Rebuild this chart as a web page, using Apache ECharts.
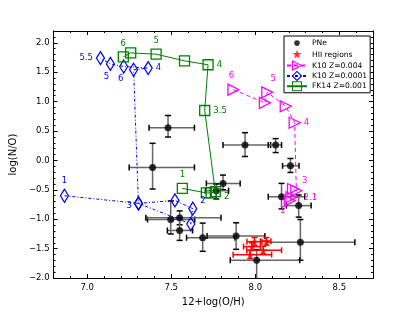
<!DOCTYPE html>
<html><head><meta charset="utf-8">
<script src="https://cdn.jsdelivr.net/npm/echarts@6/dist/echarts.min.js"></script>
<style>html,body{margin:0;padding:0;background:#fff}#c{width:415px;height:312px}</style>
</head><body><div id="c"></div>
<script>
// ---------- DATA ----------
const xTicks = [7.0, 7.5, 8.0, 8.5];
const yTicks = [-2.0, -1.5, -1.0, -0.5, 0.0, 0.5, 1.0, 1.5, 2.0];
const legendNames = ['PNe', 'HII regions', 'K10 Z=0.004', 'K10 Z=0.0001', 'FK14 Z=0.001'];

// PNe
const pneX   = [7.481, 7.389, 7.939, 8.121, 8.209, 7.808, 7.768, 8.156, 8.258, 7.497, 7.550, 7.550, 7.687, 7.886, 8.268, 8.008];
const pneY   = [0.556, -0.119, 0.262, 0.262, -0.092, -0.390, -0.515, -0.616, -0.768, -1.004, -0.976, -1.190, -1.314, -1.285, -1.390, -1.697];
const pneXlo = [7.368, 7.250, 7.808, 8.077, 8.162, 7.709, 7.703, 8.077, 8.185, 7.359, 7.349, 7.477, 7.591, 7.713, 8.067, 7.851];
const pneXhi = [7.638, 7.638, 8.091, 8.156, 8.260, 7.910, 7.841, 8.294, 8.332, 7.640, 7.796, 7.627, 7.879, 8.057, 8.592, 8.264];
const pneYlo = [0.398, -0.486, 0.067, 0.134, -0.204, -0.498, -0.655, -0.824, -0.964, -1.250, -1.094, -1.359, -1.545, -1.511, -1.697, -2.300];
const pneYhi = [0.764, 0.291, 0.472, 0.371, 0.033, -0.249, -0.401, -0.390, -0.587, -0.690, -0.858, -0.976, -1.065, -1.060, -1.004, -1.516];

// HII regions
const hiiX   = [7.995, 8.066, 8.047, 7.969, 7.980];
const hiiY   = [-1.381, -1.373, -1.528, -1.601, -1.466];
const hiiXlo = [7.950, 8.030, 7.949, 7.868, 7.930];
const hiiXhi = [8.040, 8.093, 8.156, 8.097, 8.030];
const hiiYlo = [-1.45, -1.44, -1.59, -1.67, -1.53];
const hiiYhi = [-1.31, -1.31, -1.46, -1.53, -1.40];

// K10 Z=0.004
const k10hX = [7.870, 8.057, 8.071, 8.181, 8.234, 8.244, 8.224, 8.215, 8.205];
const k10hY = [1.203, 0.979, 1.158, 0.921, 0.641, -0.515, -0.486, -0.626, -0.683];
const k10hL = ['6', '', '5', '', '4', '', '3', '2.1', '1'];

// K10 Z=0.0001
const k10lX = [6.865, 7.305, 7.522, 7.628, 7.616, 7.305, 7.276, 7.363, 7.217, 7.138, 7.079];
const k10lY = [-0.60, -0.73, -0.68, -0.82, -1.08, -0.73, 1.541, 1.570, 1.597, 1.640, 1.740];
const k10lL = ['1', '3', '', '2', '', '', '', '4', '6', '5', '5.5'];

// FK14 Z=0.001
const fkX = [7.215, 7.259, 7.410, 7.579, 7.719, 7.699, 7.762, 7.737, 7.709, 7.566];
const fkY = [1.761, 1.828, 1.806, 1.693, 1.626, 0.849, -0.531, -0.553, -0.553, -0.474];
const fkL = ['6', '', '5', '', '4', '3.5', '2', '', '', '1'];

// ---------- STYLE ----------
const FONT = 'DejaVu Sans';
const BLUE = '#0000ff', GREEN = '#008000', MAG = '#ff00ff', RED = '#ff0000';
const CLEAR = 'rgba(0,0,0,0)';
const k10hPos = [['top',[-2,0]],null,['top',[6,0]],null,['right',[0,0]],null,['right',[0,-8]],['right',[3,1]],['bottom',[-7,-3]]];
const k10lPos = [['top',[0,0]],['left',[1,2]],null,['right',[0,-8]],null,null,null,['right',[0,0]],['bottom',[-3,-3]],['bottom',[-4,-2]],['left',[0,0]]];
const fkPos = [['top',[0,0]],null,['top',[0,0]],null,['right',[0,0]],['right',[0,0]],['right',[0,5]],null,null,['top',[0,0]]];
const STARPATH = 'M0,-10L2.35,-3.24L9.51,-3.09L3.8,1.24L5.88,8.09L0,4L-5.88,8.09L-3.8,1.24L-9.51,-3.09L-2.35,-3.24Z';
const STAR = 'path://' + STARPATH;
const TRI = 'path://M0,0L12,6L0,12Z';
// legend icons padded with bounding move-to points so they render smaller than the item box
const LEG_DOT = 'path://M-6,-6M6,6M0,-3A3,3,0,1,1,0,3A3,3,0,1,1,0,-3Z';
const LEG_STAR = 'path://M-12,-12M12,12' + STARPATH;

function modelData(xs, ys, ls, pos, color) {
  return xs.map((x, i) => {
    const item = { value: [x, ys[i]] };
    if (ls[i]) {
      item.label = { show: true, formatter: ls[i], position: pos[i][0], offset: pos[i][1],
        color: color, fontSize: 8.5, fontFamily: FONT, distance: 3 };
    }
    return item;
  });
}
function errData(xs, ys, xlo, xhi, ylo, yhi) {
  return xs.map((x, i) => [x, ys[i], xlo[i], xhi[i], ylo[i], yhi[i]]);
}
function errRender(barColor, capColor) {
  return function (params, api) {
    const x = api.value(0), y = api.value(1);
    const pL = api.coord([api.value(2), y]), pR = api.coord([api.value(3), y]);
    const pB = api.coord([x, api.value(4)]), pT = api.coord([x, api.value(5)]);
    const c = 3;
    const bs = { stroke: barColor, lineWidth: 1.5 }, cs = { stroke: capColor, lineWidth: 1.5 };
    return { type: 'group', children: [
      { type: 'line', shape: { x1: pL[0], y1: pL[1], x2: pR[0], y2: pR[1] }, style: bs },
      { type: 'line', shape: { x1: pB[0], y1: pB[1], x2: pT[0], y2: pT[1] }, style: bs },
      { type: 'line', shape: { x1: pL[0], y1: pL[1] - c, x2: pL[0], y2: pL[1] + c }, style: cs },
      { type: 'line', shape: { x1: pR[0], y1: pR[1] - c, x2: pR[0], y2: pR[1] + c }, style: cs },
      { type: 'line', shape: { x1: pB[0] - c, y1: pB[1], x2: pB[0] + c, y2: pB[1] }, style: cs },
      { type: 'line', shape: { x1: pT[0] - c, y1: pT[1], x2: pT[0] + c, y2: pT[1] }, style: cs }
    ]};
  };
}
const numFmt = v => (v < -1e-9 ? '\u2212' : '') + Math.abs(v).toFixed(1);

const XMIN = 6.8, XMAX = 8.7, YMIN = -2.0, YMAX = 2.2;
const axLine = { show: true, onZero: false, lineStyle: { color: '#000', width: 1 } };
function xa(pos, major, labels) {
  const a = { type: 'value', min: XMIN, max: XMAX, position: pos, axisLine: axLine, splitLine: { show: false } };
  if (major) {
    a.axisTick = { show: true, inside: true, length: 4, customValues: xTicks, lineStyle: { color: '#000' } };
    a.axisLabel = labels ? { show: true, customValues: xTicks, formatter: numFmt, fontSize: 8.5, fontFamily: FONT, color: '#000', margin: 5 } : { show: false };
  } else {
    a.interval = 0.1;
    a.axisTick = { show: true, inside: true, length: 2, lineStyle: { color: '#000' } };
    a.axisLabel = { show: false };
  }
  return a;
}
function ya(pos, major, labels) {
  const a = { type: 'value', min: YMIN, max: YMAX, position: pos, axisLine: axLine, splitLine: { show: false } };
  if (major) {
    a.axisTick = { show: true, inside: true, length: 4, customValues: yTicks, lineStyle: { color: '#000' } };
    a.axisLabel = labels ? { show: true, customValues: yTicks, formatter: numFmt, fontSize: 8.5, fontFamily: FONT, color: '#000', margin: 4 } : { show: false };
  } else {
    a.interval = 0.1;
    a.axisTick = { show: true, inside: true, length: 2, lineStyle: { color: '#000' } };
    a.axisLabel = { show: false };
  }
  return a;
}
const xAxes = [xa('bottom', false), xa('bottom', true, true), xa('top', false), xa('top', true, false)];
xAxes[1].name = '12+log(O/H)'; xAxes[1].nameLocation = 'middle'; xAxes[1].nameGap = 11;
xAxes[1].nameTextStyle = { fontSize: 10, fontFamily: FONT, color: '#000' };
const yAxes = [ya('left', false), ya('left', true, true), ya('right', false), ya('right', true, false)];
yAxes[1].name = 'log(N/O)'; yAxes[1].nameLocation = 'middle'; yAxes[1].nameGap = 19;
yAxes[1].nameTextStyle = { fontSize: 10, fontFamily: FONT, color: '#000' };

const legendData = [
  { name: legendNames[0], icon: LEG_DOT },
  { name: legendNames[1], icon: LEG_STAR },
  { name: legendNames[2], itemStyle: { color: CLEAR, borderColor: MAG, borderWidth: 1.1 } },
  { name: legendNames[3], itemStyle: { color: CLEAR, borderColor: BLUE, borderWidth: 1.1 } },
  { name: legendNames[4], itemStyle: { color: CLEAR, borderColor: GREEN, borderWidth: 1.1 } }
];

const chart = echarts.init(document.getElementById('c'), null, { renderer: 'canvas' });
chart.setOption({
  animation: false,
  backgroundColor: '#fff',
  grid: { left: 52, top: 31, right: 42, bottom: 32, containLabel: false },
  xAxis: xAxes,
  yAxis: yAxes,
  legend: {
    data: legendData, orient: 'vertical', left: 284, top: 36,
    itemWidth: 20, itemHeight: 11.2, itemGap: 0.3,
    padding: [1.5, 3, 1.5, 2], borderColor: '#000', borderWidth: 1, borderRadius: 0,
    backgroundColor: '#fff',
    textStyle: { fontSize: 7.6, fontFamily: FONT, color: '#000' }
  },
  series: [
    { name: 'pneErr', type: 'custom', clip: true, renderItem: errRender('#666', '#000'),
      encode: { x: 0, y: 1 }, data: errData(pneX, pneY, pneXlo, pneXhi, pneYlo, pneYhi), z: 2 },
    { name: 'hiiErr', type: 'custom', clip: true, renderItem: errRender(RED, RED),
      encode: { x: 0, y: 1 }, data: errData(hiiX, hiiY, hiiXlo, hiiXhi, hiiYlo, hiiYhi), z: 3 },
    { name: 'PNe', type: 'scatter', symbol: 'circle', symbolSize: 7,
      itemStyle: { color: '#000' }, data: pneX.map((x, i) => [x, pneY[i]]), z: 4 },
    { name: 'HII regions', type: 'scatter', symbol: STAR, symbolSize: 8,
      itemStyle: { color: RED }, data: hiiX.map((x, i) => [x, hiiY[i]]), z: 5 },
    { name: 'K10 Z=0.004', type: 'line', symbol: TRI, symbolSize: [11, 11], showAllSymbol: true,
      lineStyle: { color: MAG, width: 1, type: [4, 3] },
      itemStyle: { color: CLEAR, borderColor: MAG, borderWidth: 1.3 },
      data: modelData(k10hX, k10hY, k10hL, k10hPos, MAG), z: 6 },
    { name: 'K10 Z=0.0001', type: 'line', symbol: 'diamond', symbolSize: [8, 13], showAllSymbol: true,
      lineStyle: { color: BLUE, width: 1, type: [3, 2, 1, 2] },
      itemStyle: { color: CLEAR, borderColor: BLUE, borderWidth: 1.3 },
      data: modelData(k10lX, k10lY, k10lL, k10lPos, BLUE), z: 6 },
    { name: 'FK14 Z=0.001', type: 'line', symbol: 'rect', symbolSize: [10, 10], showAllSymbol: true,
      lineStyle: { color: GREEN, width: 1 },
      itemStyle: { color: CLEAR, borderColor: GREEN, borderWidth: 1.3 },
      data: modelData(fkX, fkY, fkL, fkPos, GREEN), z: 6 }
  ]
});
</script>
</body></html>
